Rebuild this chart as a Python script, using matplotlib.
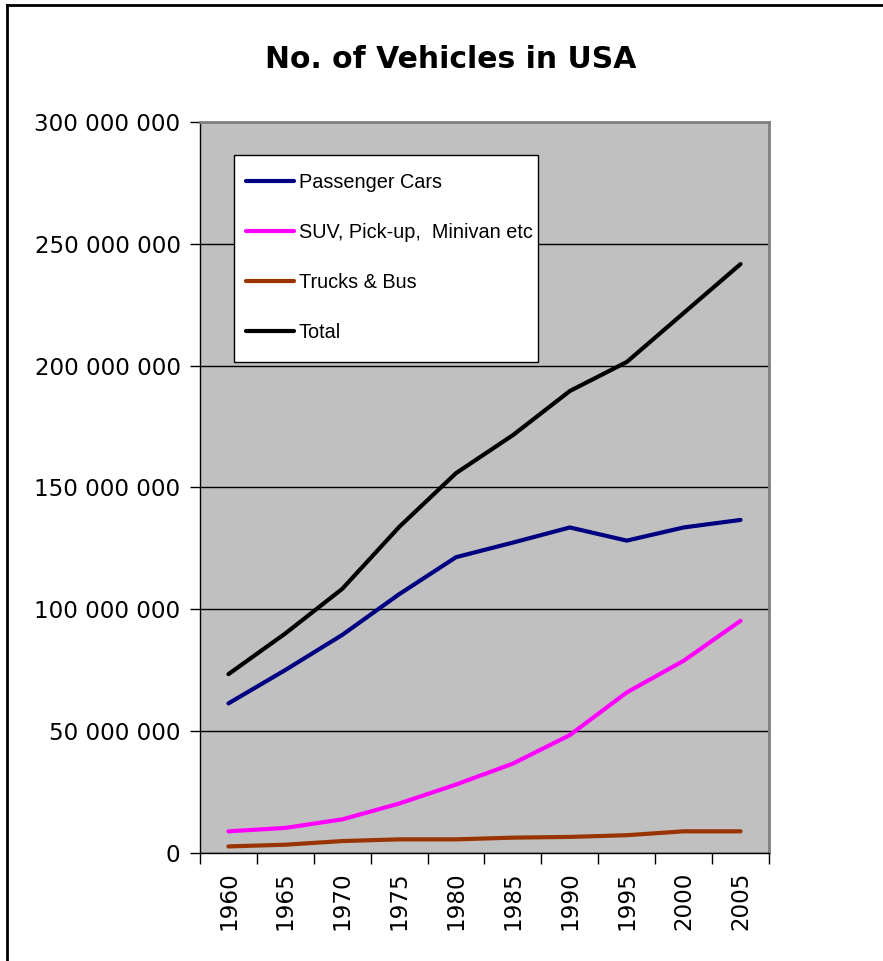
import matplotlib
matplotlib.use("Agg")
import matplotlib.pyplot as plt
from matplotlib.ticker import FuncFormatter, FixedLocator
from matplotlib.lines import Line2D
from matplotlib.patches import Rectangle

years = ["1960", "1965", "1970", "1975", "1980", "1985", "1990", "1995", "2000", "2005"]
passenger_cars = [61.4e6, 75.1e6, 89.5e6, 106.2e6, 121.4e6, 127.4e6, 133.6e6, 128.2e6, 133.6e6, 136.7e6]
suv_pickup = [8.9e6, 10.3e6, 13.8e6, 20.3e6, 28.1e6, 36.7e6, 48.4e6, 65.9e6, 78.9e6, 95.3e6]
trucks_bus = [2.7e6, 3.4e6, 4.9e6, 5.6e6, 5.6e6, 6.3e6, 6.6e6, 7.3e6, 8.9e6, 8.9e6]
total = [73.4e6, 90.1e6, 108.4e6, 133.8e6, 155.9e6, 171.5e6, 189.6e6, 201.5e6, 221.6e6, 241.7e6]
series_names = ["Passenger Cars", "SUV, Pick-up,  Minivan etc", "Trucks & Bus", "Total"]
series_colors = ["#000080", "#FF00FF", "#993300", "#000000"]
title = "No. of Vehicles in USA"

W, H = 883, 961
fig = plt.figure(figsize=(W / 100, H / 100), dpi=100)
fig.patch.set_facecolor("white")

# outer chart border
fig.add_artist(Line2D([7.5 / W, 1.0], [1 - 5 / H, 1 - 5 / H], transform=fig.transFigure, color="black", lw=2))
fig.add_artist(Line2D([7.5 / W, 7.5 / W], [0.0, 1 - 5 / H], transform=fig.transFigure, color="black", lw=2))

AX_L, AX_R, AX_T, AX_B = 200, 769, 122, 853
ax = fig.add_axes([AX_L / W, (H - AX_B) / H, (AX_R - AX_L) / W, (AX_B - AX_T) / H])
ax.set_facecolor("#C0C0C0")

x = list(range(len(years)))
data = [passenger_cars, suv_pickup, trucks_bus, total]
for vals, name, col in zip(data, series_names, series_colors):
    ax.plot(x, vals, color=col, lw=3.0, label=name, solid_capstyle="round", solid_joinstyle="round")

ax.set_xlim(-0.5, len(years) - 0.5)
ax.set_ylim(0, 300e6)
ax.set_yticks([0, 50e6, 100e6, 150e6, 200e6, 250e6, 300e6])
ax.yaxis.set_major_formatter(FuncFormatter(lambda v, p: f"{int(round(v)):,}".replace(",", " ")))
ax.grid(axis="y", color="black", lw=1)
ax.set_axisbelow(True)

# x: labels centered in bins, ticks at boundaries
ax.set_xticks(x)
ax.set_xticklabels(years, rotation=90, fontfamily="DejaVu Sans", fontsize=16.6)
ax.tick_params(axis="x", which="major", length=0, pad=13.5)
ax.xaxis.set_minor_locator(FixedLocator([i - 0.5 for i in range(len(years) + 1)]))
ax.tick_params(axis="x", which="minor", length=8, width=1, color="black", direction="out")
ax.tick_params(axis="y", length=7, width=1, color="black", pad=7, labelsize=16.6)
for lab in ax.get_yticklabels():
    lab.set_fontfamily("DejaVu Sans")

for side in ["top", "right"]:
    ax.spines[side].set_color("#808080")
    ax.spines[side].set_linewidth(2)
for side in ["left", "bottom"]:
    ax.spines[side].set_color("black")
    ax.spines[side].set_linewidth(1)

# legend box (frame drawn separately)
pw, ph = AX_R - AX_L, AX_B - AX_T
box_l, box_r, box_t, box_b = 234, 538, 155, 362
ax.add_patch(Rectangle(((box_l - AX_L) / pw, (AX_B - box_b) / ph),
                       (box_r - box_l) / pw, (box_b - box_t) / ph,
                       transform=ax.transAxes, facecolor="white", edgecolor="black",
                       lw=1, zorder=4))
leg = ax.legend(loc="upper left", bbox_to_anchor=((box_l - AX_L) / pw, (AX_B - (box_t + 6)) / ph),
                borderaxespad=0, frameon=False,
                prop={"family": "Liberation Sans", "size": 14.3},
                handlelength=2.4, handletextpad=0.25, labelspacing=1.56, borderpad=0.6)
leg.set_zorder(5)

fig.text(450.5 / W, (H - 68) / H, title, ha="center", va="baseline",
         fontfamily="DejaVu Sans", fontweight="bold", fontsize=21.5)

fig.savefig("out.png", dpi=100, facecolor="white")
